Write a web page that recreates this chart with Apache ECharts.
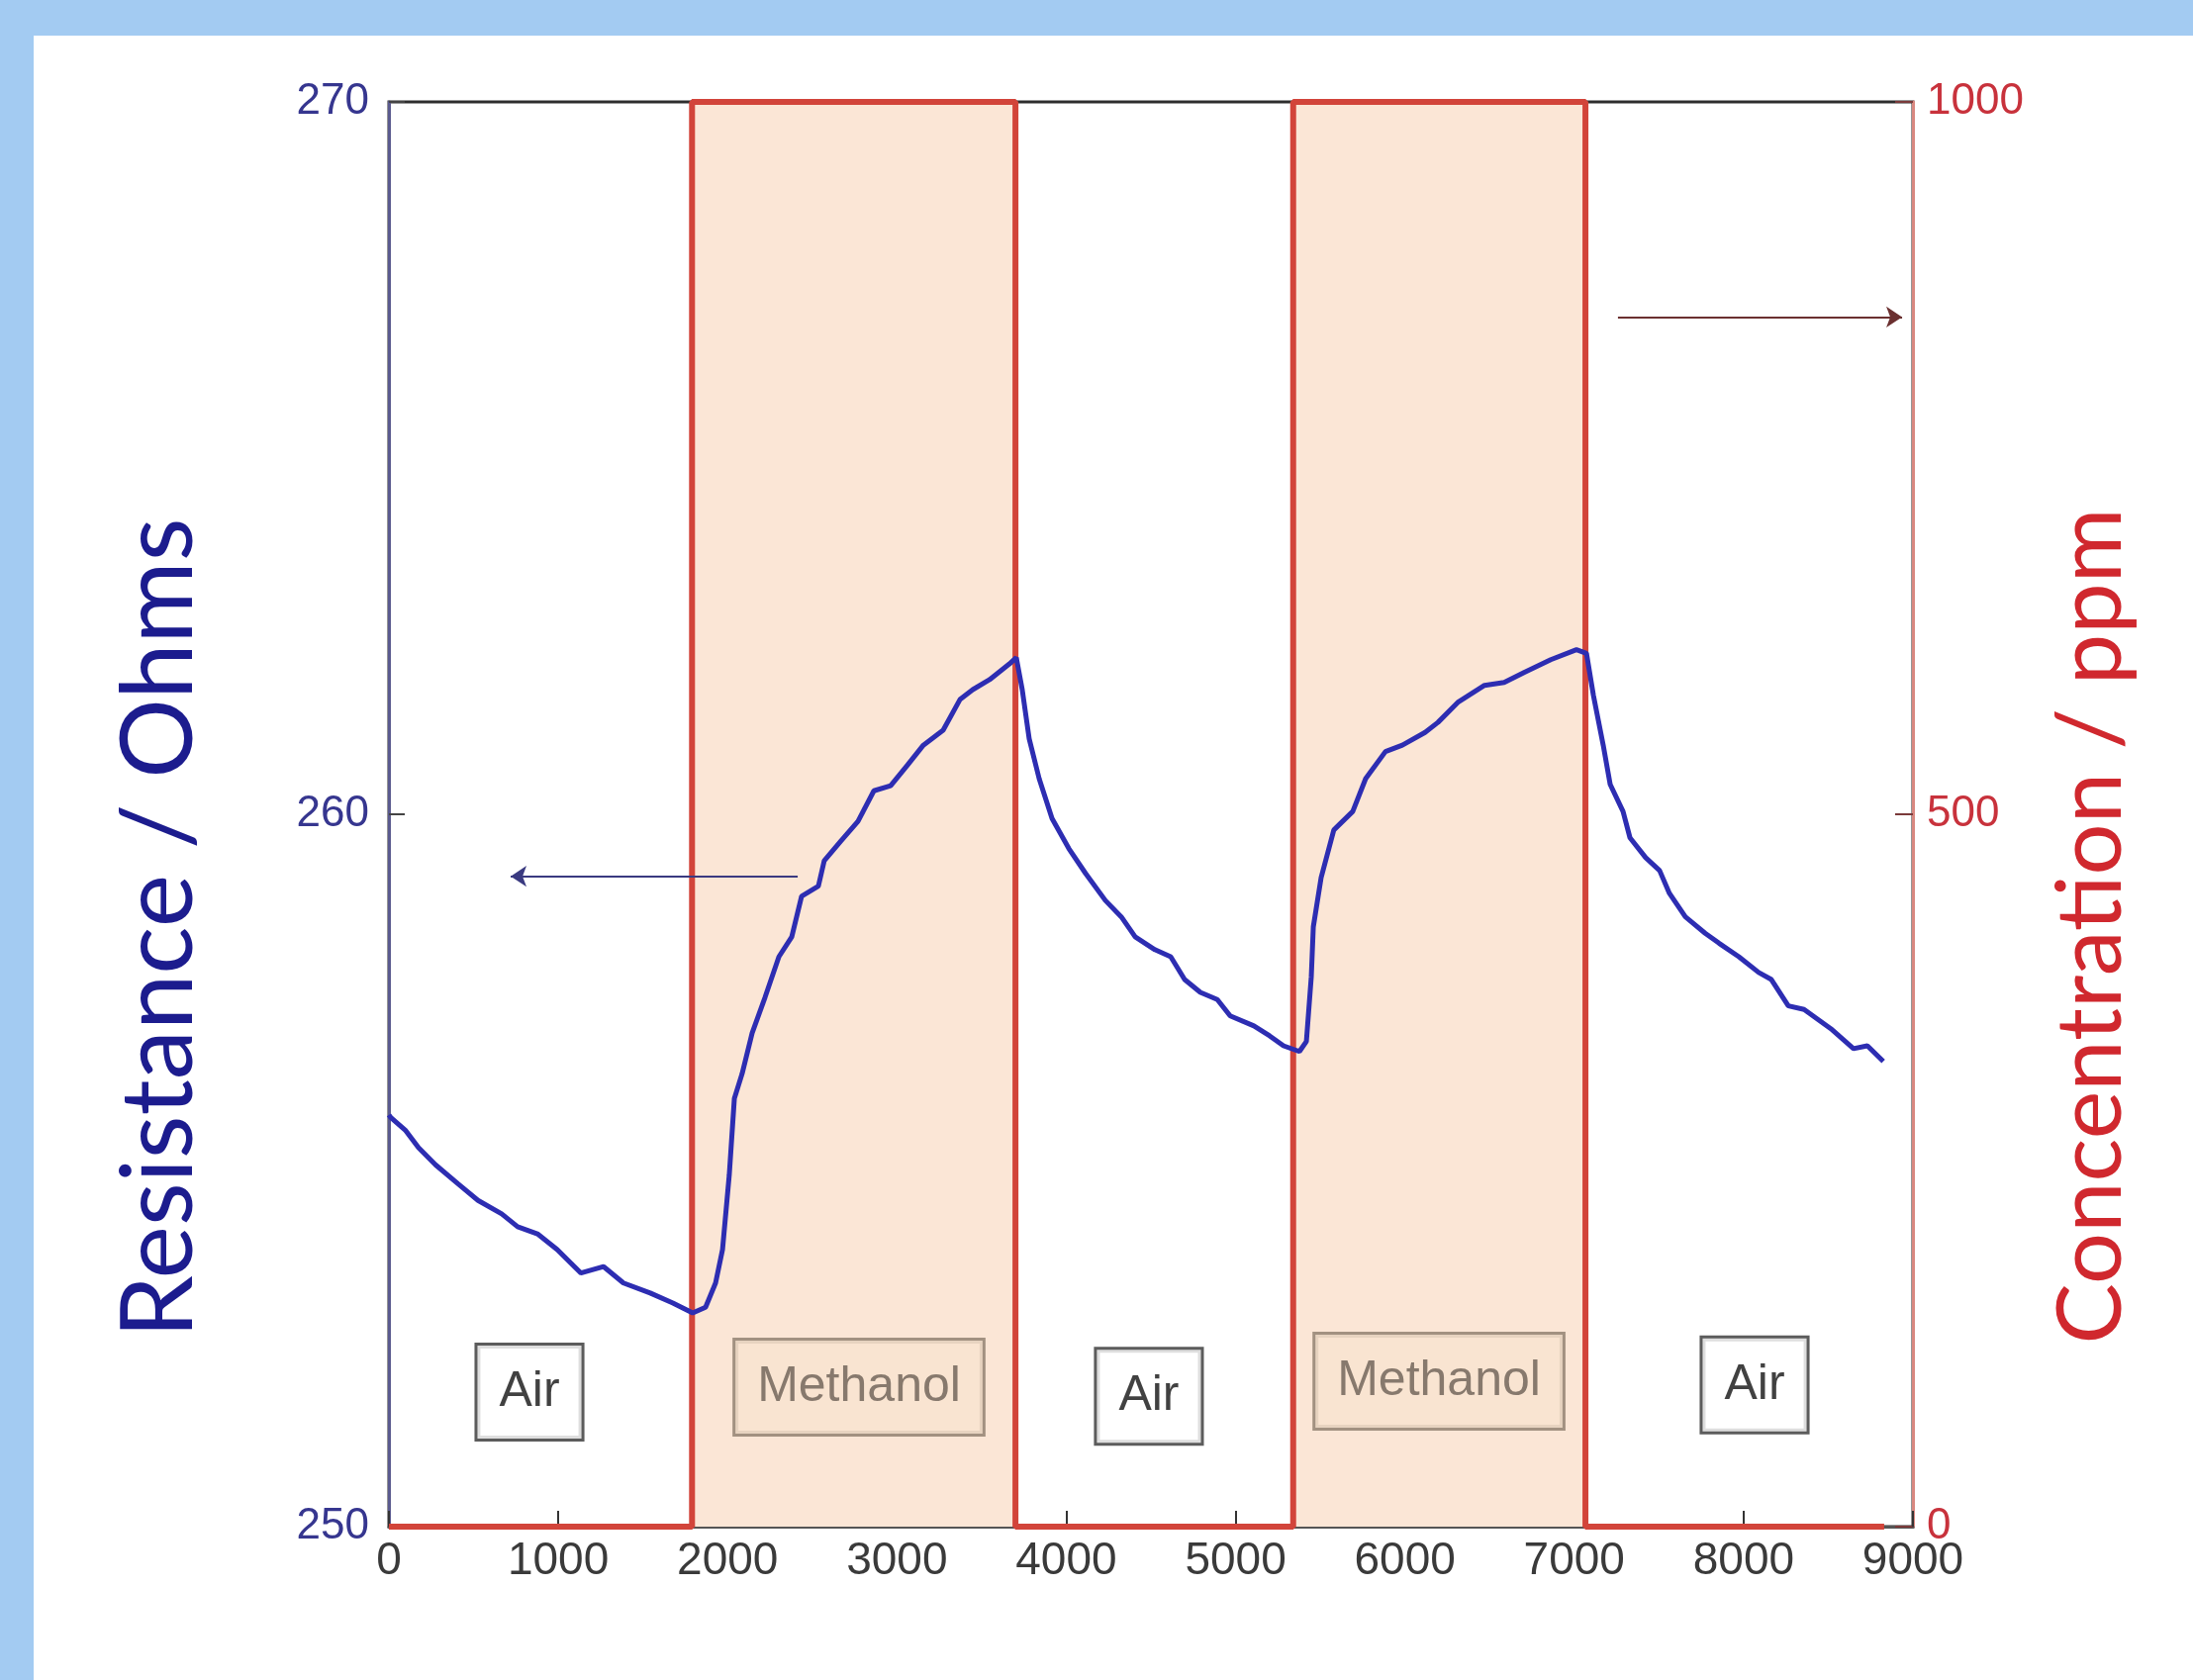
<!DOCTYPE html>
<html lang="en">
  <head>
    <meta charset="UTF-8" />
    <title>Methanol response</title>
    <script src="https://cdn.jsdelivr.net/npm/echarts@6.0.0/dist/echarts.min.js"></script>
    <style>
      html, body { margin: 0; padding: 0; }
    </style>
  </head>
  <body>
    <div id="main" style="width: 2216px; height: 1698px"></div>
    <script type="text/javascript">
      // resistance trace (time in s, ohms)
      const resTime = [0, 12, 99, 175, 275, 409, 526, 666, 760, 877, 994, 1134, 1268, 1385, 1543, 1677, 1794,
        1870, 1929, 1970, 2010, 2040, 2086, 2145, 2221, 2303, 2379, 2437, 2536, 2571, 2671, 2770, 2864, 2963,
        3062, 3156, 3273, 3372, 3448, 3547, 3664, 3705, 3740, 3781, 3840, 3916, 4015, 4114, 4231, 4325, 4407,
        4523, 4617, 4699, 4792, 4892, 4968, 5108, 5201, 5283, 5377, 5418, 5447, 5459, 5505, 5580, 5692, 5768,
        5885, 5985, 6119, 6195, 6312, 6470, 6586, 6703, 6861, 7013, 7072, 7113, 7171, 7212, 7288, 7329, 7422,
        7504, 7562, 7656, 7773, 7855, 7972, 8089, 8164, 8264, 8357, 8515, 8649, 8731, 8825];
      const resOhms = [255.78, 255.74, 255.56, 255.32, 255.08, 254.81, 254.58, 254.39, 254.21, 254.11, 253.89,
        253.56, 253.65, 253.42, 253.28, 253.14, 253.0, 253.08, 253.42, 253.89, 254.94, 256.01, 256.36, 256.93,
        257.43, 258.0, 258.28, 258.85, 258.99, 259.35, 259.63, 259.9, 260.33, 260.4, 260.69, 260.97, 261.18,
        261.61, 261.75, 261.89, 262.11, 262.2, 261.75, 261.06, 260.5, 259.94, 259.52, 259.17, 258.79, 258.56,
        258.28, 258.1, 258.0, 257.68, 257.5, 257.4, 257.17, 257.03, 256.89, 256.75, 256.67, 256.81, 257.72,
        258.42, 259.11, 259.78, 260.04, 260.5, 260.88, 260.97, 261.15, 261.29, 261.57, 261.81, 261.85, 261.99,
        262.17, 262.31, 262.26, 261.67, 260.97, 260.42, 260.04, 259.67, 259.39, 259.21, 258.89, 258.56, 258.33,
        258.19, 258.0, 257.78, 257.68, 257.31, 257.26, 256.99, 256.71, 256.75, 256.53];

      // methanol concentration steps (ppm)
      const stepTime = [0, 1790, 1790, 3700, 3700, 5340, 5340, 7066, 7066, 8830];
      const stepPpm = [0, 0, 1000, 1000, 0, 0, 1000, 1000, 0, 0];

      // boxed phase labels
      const phaseNames = ['Air', 'Methanol', 'Air', 'Methanol', 'Air'];
      const phaseTime = [830, 2776, 4488, 6201, 8065];
      const phaseOhms = [251.89, 251.96, 251.83, 252.04, 251.99];

      const narrow = "'Liberation Sans Narrow', 'Liberation Sans', Arial, sans-serif";
      const plain = (v) => String(v);

      const resData = resTime.map((t, i) => [t, resOhms[i]]);
      const stepData = stepTime.map((t, i) => [t, stepPpm[i]]);

      const phaseData = phaseNames.map((n, i) => {
        const isAir = n === 'Air';
        return {
          name: n,
          value: [phaseTime[i], phaseOhms[i]],
          label: {
            color: isAir ? '#111' : '#6a5e54',
            backgroundColor: isAir ? '#ffffff' : '#f9e3d0',
            borderColor: isAir ? '#333333' : '#8c7c6c',
          },
        };
      });

      let myChart = echarts.init(document.getElementById('main'));

      let options = {
        animation: false,
        backgroundColor: '#a3cbf2',
        graphic: [
          {
            type: 'rect',
            z: -100,
            shape: { x: 34, y: 36, width: 2182, height: 1662 },
            style: { fill: '#ffffff' },
          },
          {
            type: 'text',
            z: 100,
            x: 161,
            y: 938,
            rotation: Math.PI / 2,
            style: {
              text: 'Resistance / Ohms',
              font: "101px Lato, 'Open Sans', sans-serif",
              fill: '#1c1c8e',
              textAlign: 'center',
              textVerticalAlign: 'middle',
            },
          },
          {
            type: 'text',
            z: 100,
            x: 2113,
            y: 936,
            rotation: Math.PI / 2,
            style: {
              text: 'Concentration / ppm',
              font: "92px Lato, 'Open Sans', sans-serif",
              fill: '#d0282e',
              textAlign: 'center',
              textVerticalAlign: 'middle',
            },
          },
        ],
        grid: {
          left: 393,
          right: 283,
          top: 103,
          bottom: 155,
          show: true,
          backgroundColor: '#ffffff',
          borderColor: '#2e2e2e',
          borderWidth: 3,
        },
        xAxis: {
          type: 'value',
          min: 0,
          max: 9000,
          interval: 1000,
          splitLine: { show: false },
          axisLine: { lineStyle: { color: '#555', width: 3 } },
          axisTick: { inside: true, length: 16, lineStyle: { color: '#333', width: 2 } },
          axisLabel: {
            margin: 12,
            color: '#3a3a3a',
            fontFamily: narrow,
            fontSize: 46,
            formatter: plain,
          },
        },
        yAxis: [
          {
            type: 'value',
            min: 250,
            max: 270,
            interval: 10,
            position: 'left',
            splitLine: { show: false },
            axisLine: { show: true, lineStyle: { color: '#5b5b8f', width: 3 } },
            axisTick: { inside: true, length: 16, lineStyle: { color: '#444', width: 2 } },
            axisLabel: { margin: 20, color: '#36368f', fontFamily: narrow, fontSize: 44, formatter: plain },
          },
          {
            type: 'value',
            min: 0,
            max: 1000,
            interval: 500,
            position: 'right',
            splitLine: { show: false },
            axisLine: { show: true, lineStyle: { color: '#d98880', width: 3 } },
            axisTick: { inside: true, length: 18, lineStyle: { color: '#7a3a3a', width: 2 } },
            axisLabel: { margin: 14, color: '#c8323c', fontFamily: narrow, fontSize: 44, formatter: plain },
          },
        ],
        series: [
          {
            name: 'Concentration',
            type: 'line',
            yAxisIndex: 1,
            data: stepData,
            showSymbol: false,
            z: 3,
            lineStyle: { color: '#d2443a', width: 6 },
            areaStyle: { color: '#fbe6d6', opacity: 1 },
            markLine: {
              silent: true,
              symbol: ['none', 'arrow'],
              symbolSize: 16,
              label: { show: false },
              lineStyle: { color: '#6b3030', width: 2, type: 'solid' },
              data: [[{ coord: [7258, 849] }, { coord: [8936, 849] }]],
            },
          },
          {
            name: 'Resistance',
            type: 'line',
            yAxisIndex: 0,
            data: resData,
            showSymbol: false,
            z: 5,
            lineStyle: { color: '#2d2db2', width: 5 },
            markLine: {
              silent: true,
              symbol: ['none', 'arrow'],
              symbolSize: 16,
              label: { show: false },
              lineStyle: { color: '#3a3a80', width: 2, type: 'solid' },
              data: [[{ coord: [2414, 259.13] }, { coord: [719, 259.13] }]],
            },
          },
          {
            name: 'Phase',
            type: 'scatter',
            yAxisIndex: 0,
            data: phaseData,
            symbolSize: 2,
            itemStyle: { color: 'rgba(0,0,0,0)' },
            z: 6,
            label: {
              show: true,
              position: 'inside',
              formatter: (p) => p.name,
              fontFamily: narrow,
              fontSize: 50,
              borderWidth: 3,
              padding: [22, 22, 22, 22],
            },
          },
        ],
      };

      myChart.setOption(options);
    </script>
  </body>
</html>
